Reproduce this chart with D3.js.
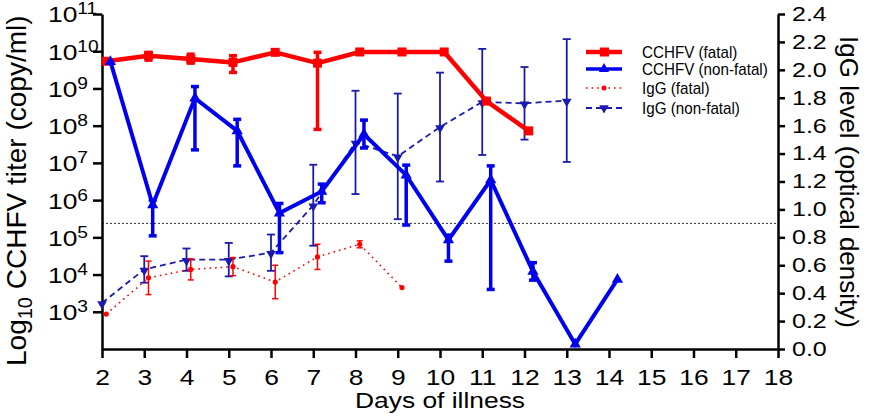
<!DOCTYPE html>
<html><head><meta charset="utf-8">
<script src="https://cdn.jsdelivr.net/npm/d3@7/dist/d3.min.js"></script>
<style>
body{margin:0;background:#fff}
svg{display:block}
text{font-family:"Liberation Sans",Arial,sans-serif;fill:#000}
</style>
</head><body>
<svg id="chart" width="873" height="420"></svg>
<script>
// ---------- DATA ----------
// CCHFV titer values are log10(copy/ml)
const cchfvFatalDays = [2,3,4,5,6,7,8,9,10,11,12];
const cchfvFatal     = [9.73,9.88,9.79,9.70,9.97,9.68,9.98,9.98,9.98,8.66,7.86];
const cchfvFatalHi   = [null,9.97,9.92,9.88,null,9.97,null,null,null,null,null];
const cchfvFatalLo   = [null,9.76,9.68,9.43,null,7.90,null,null,null,null,null];

const cchfvNonFatalDays = [2,3,4,5,6,7,8,9,10,11,12,13,14];
const cchfvNonFatal     = [9.72,5.87,8.74,7.86,5.65,6.23,7.77,6.67,4.93,6.54,4.08,2.13,3.87];
const cchfvNonFatalHi   = [null,6.00,9.05,8.17,5.91,6.43,8.15,6.94,5.06,6.92,4.32,null,null];
const cchfvNonFatalLo   = [null,5.04,7.35,6.92,4.59,5.93,7.40,5.33,4.36,3.60,3.85,null,null];

// IgG optical density
const igGFatalDays = [2,3,4,5,6,7,8,9];
const igGFatal     = [0.25,0.51,0.57,0.59,0.48,0.66,0.75,0.44];
const igGFatalErr  = [null,0.12,0.075,0.065,0.12,0.09,0.025,null];

const igGNonFatalDays = [2,3,4,5,6,7,8,9,10,11,12,13];
const igGNonFatal     = [0.33,0.57,0.64,0.64,0.69,1.03,1.48,1.38,1.59,1.77,1.76,1.78];
const igGNonFatalErr  = [null,0.095,0.08,0.12,0.13,0.29,0.37,0.45,0.39,0.38,0.26,0.44];

const igGCutoff = 0.90;

const xTicks = d3.range(2, 19);
const yLeftTicks = [3,4,5,6,7,8,9,10,11];           // exponents
const yRightTicks = d3.range(0, 2.41, 0.2);

const legendLabels = ["CCHFV (fatal)","CCHFV (non-fatal)","IgG (fatal)","IgG (non-fatal)"];

// ---------- LAYOUT ----------
const X0 = 102, X1 = 778, YB = 349, YT = 14;
const RED = "#ff0000", BLUE = "#0000f0", NAVY = "#1a1ab0";
const SX = 1.2;

const svg = d3.select("#chart");
const x = d3.scaleLinear().domain([2, 18]).range([X0, X1]);
const yL = d3.scaleLog().domain([1e2, 1e11]).range([YB, YT]);
const yR = d3.scaleLinear().domain([0, 2.4]).range([YB, YT]);
const lv = v => yL(Math.pow(10, v));

// cutoff line
svg.append("line")
  .attr("x1", X0).attr("x2", X1)
  .attr("y1", yR(igGCutoff)).attr("y2", yR(igGCutoff))
  .attr("stroke", "#333").attr("stroke-width", 1).attr("stroke-dasharray", "2,2");

// ---------- AXES ----------
const axB = svg.append("g").attr("transform", `translate(0,${YB})`)
  .call(d3.axisBottom(x).tickValues(xTicks).tickFormat(d3.format("d")).tickSize(9).tickSizeOuter(0));
axB.selectAll("text").attr("y", 36).attr("dy", 0)
  .attr("font-size", 22).attr("transform", `scale(${SX},1)`);

const axL = svg.append("g").attr("transform", `translate(${X0},0)`)
  .call(d3.axisLeft(yL).tickValues(yLeftTicks.map(e => Math.pow(10, e))).tickFormat("").tickSize(9).tickSizeOuter(0));
axL.selectAll(".tick").each(function(d) {
  const e = Math.round(Math.log10(d));
  const t = d3.select(this).select("text")
    .attr("x", (48 - X0) / SX).attr("dy", "0.36em").attr("text-anchor", "start")
    .attr("font-size", 22).attr("transform", `scale(${SX},1)`);
  t.text(null);
  t.append("tspan").text("10");
  t.append("tspan").attr("font-size", 16).attr("dy", -8).text(e);
});

const axR = svg.append("g").attr("transform", `translate(${X1},0)`)
  .call(d3.axisRight(yR).tickValues(yRightTicks).tickFormat(d3.format(".1f")).tickSize(7).tickSizeOuter(0));
axR.selectAll("text").attr("x", 14 / 1.25).attr("font-size", 20)
  .attr("transform", "scale(1.25,1)");

[axB, axL, axR].forEach(a => {
  a.select(".domain").attr("stroke-width", 2.5);
  a.selectAll(".tick line").attr("stroke-width", 2.5);
  a.selectAll("text").attr("fill", "#000").attr("font-family", '"Liberation Sans",Arial,sans-serif');
});

// axis titles
svg.append("text").attr("transform", `translate(440,408) scale(${SX},1)`)
  .attr("text-anchor", "middle").attr("font-size", 22).text("Days of illness");

const lt = svg.append("text").attr("transform", "translate(26,366) rotate(-90)")
  .attr("text-anchor", "start").attr("font-size", 28);
lt.append("tspan").text("Log");
lt.append("tspan").attr("font-size", 20).attr("dy", 6).text("10");
lt.append("tspan").attr("dy", -6).text(" CCHFV titer (copy/ml)");

svg.append("text").attr("transform", "translate(840,182) rotate(90)")
  .attr("text-anchor", "middle").attr("font-size", 26).text("IgG level (optical density)");

// ---------- SERIES ----------
function drawErr(g, xs, ys, his, los, color, sw, cap) {
  xs.forEach((xx, i) => {
    if (his[i] == null) return;
    g.append("line").attr("x1", xx).attr("x2", xx).attr("y1", his[i]).attr("y2", los[i])
      .attr("stroke", color).attr("stroke-width", sw);
    [his[i], los[i]].forEach(yy => g.append("line")
      .attr("x1", xx - cap).attr("x2", xx + cap).attr("y1", yy).attr("y2", yy)
      .attr("stroke", color).attr("stroke-width", sw));
  });
}
const line = d3.line();

// IgG non-fatal (dodge 0)
{
  const g = svg.append("g");
  const xs = igGNonFatalDays.map(d => x(d));
  const ys = igGNonFatal.map(v => yR(v));
  drawErr(g, xs, ys,
    igGNonFatal.map((v, i) => igGNonFatalErr[i] == null ? null : yR(v + igGNonFatalErr[i])),
    igGNonFatal.map((v, i) => igGNonFatalErr[i] == null ? null : yR(v - igGNonFatalErr[i])),
    NAVY, 1.8, 4);
  g.append("path").attr("d", line(xs.map((xx, i) => [xx, ys[i]])))
    .attr("fill", "none").attr("stroke", NAVY).attr("stroke-width", 1.8).attr("stroke-dasharray", "6,4");
  xs.forEach((xx, i) => g.append("path").attr("d", d3.symbol(d3.symbolTriangle, 40)())
    .attr("transform", `translate(${xx},${ys[i] + 1}) rotate(180)`).attr("fill", NAVY));
}
// IgG fatal (dodge 0.1)
{
  const g = svg.append("g");
  const xs = igGFatalDays.map(d => x(d + 0.1));
  const ys = igGFatal.map(v => yR(v));
  drawErr(g, xs, ys,
    igGFatal.map((v, i) => igGFatalErr[i] == null ? null : yR(v + igGFatalErr[i])),
    igGFatal.map((v, i) => igGFatalErr[i] == null ? null : yR(v - igGFatalErr[i])),
    RED, 1.5, 3);
  g.append("path").attr("d", line(xs.map((xx, i) => [xx, ys[i]])))
    .attr("fill", "none").attr("stroke", RED).attr("stroke-width", 1.6).attr("stroke-dasharray", "1.6,4");
  xs.forEach((xx, i) => g.append("circle").attr("cx", xx).attr("cy", ys[i]).attr("r", 2.6).attr("fill", RED));
}
// CCHFV fatal (dodge 0.1)
{
  const g = svg.append("g");
  const xs = cchfvFatalDays.map(d => x(d + 0.1));
  const ys = cchfvFatal.map(lv);
  drawErr(g, xs, ys, cchfvFatalHi.map(v => v == null ? null : lv(v)),
    cchfvFatalLo.map(v => v == null ? null : lv(v)), RED, 3.5, 4);
  g.append("path").attr("d", line(xs.map((xx, i) => [xx, ys[i]])))
    .attr("fill", "none").attr("stroke", RED).attr("stroke-width", 4.5).attr("stroke-linejoin", "round");
  xs.forEach((xx, i) => g.append("rect").attr("x", xx - 4.5).attr("y", ys[i] - 4.5)
    .attr("width", 9).attr("height", 9).attr("fill", RED));
}
// CCHFV non-fatal (dodge 0.2)
{
  const g = svg.append("g");
  const xs = cchfvNonFatalDays.map(d => x(d + 0.2));
  const ys = cchfvNonFatal.map(lv);
  drawErr(g, xs, ys, cchfvNonFatalHi.map(v => v == null ? null : lv(v)),
    cchfvNonFatalLo.map(v => v == null ? null : lv(v)), BLUE, 3.5, 4);
  g.append("path").attr("d", line(xs.map((xx, i) => [xx, ys[i]])))
    .attr("fill", "none").attr("stroke", BLUE).attr("stroke-width", 4).attr("stroke-linejoin", "miter");
  xs.forEach((xx, i) => g.append("path").attr("d", d3.symbol(d3.symbolTriangle, 55)())
    .attr("transform", `translate(${xx},${ys[i]})`).attr("fill", BLUE));
}

// ---------- LEGEND ----------
const legY = [52, 69, 88, 108];
const legStyles = [
  {c: RED, w: 4.5, dash: null, m: "square"},
  {c: BLUE, w: 3.5, dash: null, m: "tri"},
  {c: RED, w: 1.5, dash: "1.6,4", m: "dot"},
  {c: NAVY, w: 1.8, dash: "6,4", m: "tridown"}
];
const lg = svg.append("g");
legendLabels.forEach((lab, i) => {
  const s = legStyles[i], y = legY[i];
  lg.append("line").attr("x1", 586).attr("x2", 622).attr("y1", y).attr("y2", y)
    .attr("stroke", s.c).attr("stroke-width", s.w).attr("stroke-dasharray", s.dash);
  if (s.m === "square") lg.append("rect").attr("x", 600).attr("y", y - 4.5).attr("width", 9).attr("height", 9).attr("fill", s.c);
  if (s.m === "tri") lg.append("path").attr("d", d3.symbol(d3.symbolTriangle, 45)()).attr("transform", `translate(604,${y})`).attr("fill", s.c);
  if (s.m === "dot") lg.append("circle").attr("cx", 604).attr("cy", y).attr("r", 2.5).attr("fill", s.c);
  if (s.m === "tridown") lg.append("path").attr("d", d3.symbol(d3.symbolTriangle, 40)()).attr("transform", `translate(604,${y}) rotate(180)`).attr("fill", s.c);
  lg.append("text").attr("transform", `translate(642,${y + 6}) scale(0.95,1)`)
    .attr("font-size", 16).text(lab);
});
</script>
</body></html>
